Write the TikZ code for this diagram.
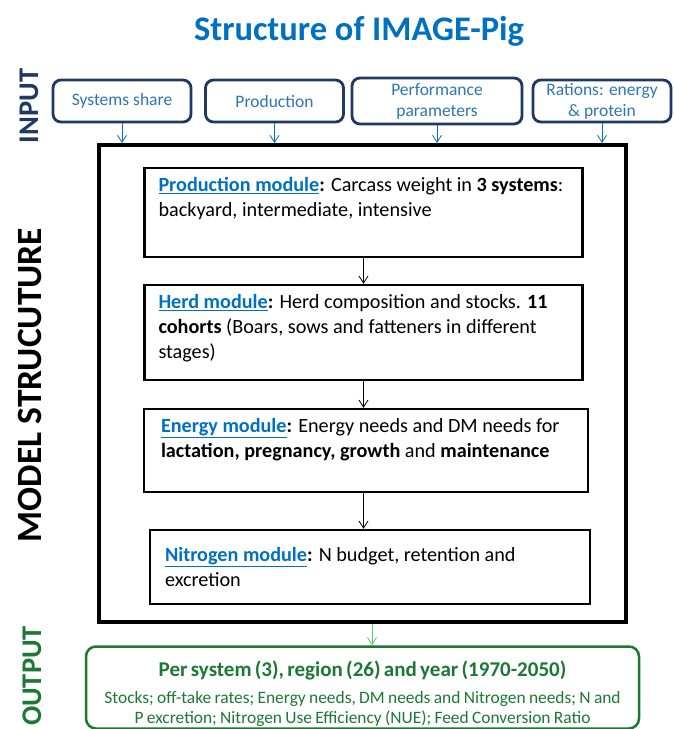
\documentclass[tikz,border=0pt]{standalone}
\usepackage{fontspec}
\setmainfont{Carlito}
\usetikzlibrary{shapes,arrows.meta,calc}
\definecolor{titleblue}{RGB}{0,112,192}
\definecolor{inputblue}{RGB}{46,117,182}
\definecolor{inputnavy}{RGB}{31,56,100}
\definecolor{linkblue}{RGB}{0,112,192}
\definecolor{outgreen}{RGB}{28,120,50}
\definecolor{outarrow}{RGB}{90,200,110}
\newcommand{\modname}[1]{\textcolor{linkblue}{\underline{\textbf{#1}}}\textbf{:}}
\tikzstyle{heading} = [text=titleblue, font=\bfseries\fontsize{34.5}{40}\selectfont]
\tikzstyle{sidelabel} = [rotate=90, font=\bfseries\fontsize{28.5}{34}\selectfont]
\tikzstyle{inbox} = [rectangle, draw=inputnavy, line width=2.8pt, rounded corners=8pt,
    fill=white, text=inputblue, align=center, minimum width=138pt, minimum height=42pt,
    inner sep=2pt, font=\fontsize{17.5}{21}\selectfont]
\tikzstyle{frame} = [rectangle, draw, line width=4pt, minimum width=527pt, minimum height=477pt]
\tikzstyle{module} = [rectangle, draw, line width=2.5pt, inner xsep=14pt, inner ysep=9pt,
    align=left, font=\fontsize{20.2}{25}\selectfont]
\tikzstyle{outbox} = [rectangle, draw=outgreen, line width=2.5pt, rounded corners=10pt,
    text=outgreen, text width=545pt, align=center, minimum width=553pt, minimum height=79pt,
    inner xsep=4pt, inner ysep=2pt]
\tikzstyle{line} = [draw, -{Straight Barb[length=7pt,width=9pt]}, line width=0.8pt]

\begin{document}
\begin{tikzpicture}[x=1pt, y=1pt, node distance=120pt]
    \useasboundingbox (0,0) rectangle (673,-729);
    % Title and side labels
    \node [heading] (title) at (359,-31) {Structure of IMAGE-Pig};
    \node [sidelabel, text=inputnavy] (inlabel) at (29,-106) {INPUT};
    \node [sidelabel, font=\bfseries\fontsize{35.5}{40}\selectfont] (modlabel) at (30,-385) {MODEL STRUCUTURE};
    \node [sidelabel, text=outgreen] (outlabel) at (32,-676) {OUTPUT};
    % Input boxes
    \node [inbox] (sysshare) at (122,-101) {Systems share};
    \node [inbox, right of=sysshare, node distance=152.5pt] (production) {Production};
    \node [inbox, right of=production, node distance=162.5pt, minimum width=170pt, minimum height=46pt] (perform) {Performance\\parameters};
    \node [inbox, right of=perform, node distance=165pt] (rations) {Rations: energy\\\& protein};
    % Model structure
    \node [frame] (model) at (362.5,-383.5) {};
    \node [module] (prodmod) at (363.5,-212.5) {\parbox[c][71pt][t]{410pt}{\modname{Production module} Carcass weight in \textbf{3 systems}:\\backyard, intermediate, intensive}};
    \node [module, below of=prodmod] (herdmod) {\parbox[c][77pt][t]{410pt}{\modname{Herd module} Herd composition and stocks. \textbf{11}\\\textbf{cohorts} (Boars, sows and fatteners in different\\stages)}};
    \node [module, below of=herdmod, node distance=118pt, xshift=2.5pt, minimum width=444pt] (energymod) {\parbox[c][65pt][t]{410pt}{\modname{Energy module} Energy needs and DM needs for\\\textbf{lactation, pregnancy, growth} and \textbf{maintenance}}};
    \node [module, below of=energymod, node distance=116.5pt, xshift=4pt, minimum width=440pt] (nitromod) {\parbox[c][56pt][c]{410pt}{\modname{Nitrogen module} N budget, retention and\\excretion}};
    % Output
    \node [outbox, below of=model, node distance=304pt] (output) {{\bfseries\fontsize{21}{24}\selectfont\rule{0pt}{28pt}Per system (3), region (26) and year (1970-2050)\par}\vspace{7pt}
        {\fontsize{17.4}{20}\selectfont Stocks; off-take rates; Energy needs, DM needs and Nitrogen needs; N and\\P excretion; Nitrogen Use Efficiency (NUE); Feed Conversion Ratio\par}};
    % Draw edges
    \path [line, draw=titleblue] (sysshare.south) -- (sysshare.south |- model.north);
    \path [line, draw=titleblue] (production.south) -- (production.south |- model.north);
    \path [line, draw=titleblue] (perform.south) -- (perform.south |- model.north);
    \path [line, draw=titleblue] (rations.south) -- (rations.south |- model.north);
    \path [line] (prodmod.south) -- (prodmod.south |- herdmod.north);
    \path [line] (herdmod.south) -- (herdmod.south |- energymod.north);
    \path [line] ([xshift=-2.5pt]energymod.south) -- ([xshift=-2.5pt]energymod.south |- nitromod.north);
    \path [line, draw=outarrow] ([xshift=9.5pt]model.south) -- ([xshift=9.5pt]model.south |- output.north);
\end{tikzpicture}
\end{document}
